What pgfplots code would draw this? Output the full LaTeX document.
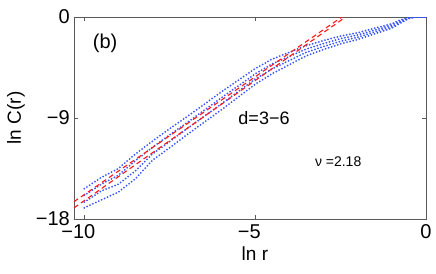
\documentclass[border=0pt]{standalone}
\usepackage{pgfplots}
\pgfplotsset{compat=1.18}
\usepackage{fontspec}
\setmainfont{Liberation Sans}
\definecolor{myblue}{rgb}{0.22,0.33,1}
\definecolor{myred}{rgb}{1,0.1,0.1}
\begin{document}
\begin{tikzpicture}
\useasboundingbox (-74pt,-54pt) rectangle (362pt,219pt);
\begin{axis}[
  scale only axis, width=352pt, height=202pt,
  xmin=-10.3, xmax=0, ymin=-18, ymax=0,
  xtick={-10,-5,0}, xticklabels={\llap{−}10,\llap{−}5,0},
  ytick={-18,-9,0}, yticklabels={−18,−9,0},
  tick align=inside, major tick length=4pt,
  axis line style={black!65}, tick style={black!65},
  ticklabel style={font=\fontsize{20}{24}\selectfont},
  yticklabel style={inner xsep=0pt, xshift=-4pt},
  xticklabel style={yshift=-2pt},
  xlabel={ln r}, ylabel={ln C(r)},
  label style={font=\fontsize{19}{23}\selectfont},
  xlabel style={anchor=center, at={(axis description cs:0.514,-0.17)}},
  ylabel style={anchor=center, at={(axis description cs:-0.165,0.5)}},
  clip=true,
  every axis plot/.append style={line join=round},
]
% blue dotted curves
\addplot[myblue, line width=2pt, line cap=round, dash pattern=on 0pt off 3.2pt] coordinates {
(-10,-15.3) (-9.5,-14.3) (-9,-13.5) (-8.5,-12.2) (-8,-11.05) (-7.5,-9.95) (-7,-8.9) (-6.5,-7.8) (-6,-6.7) (-5.5,-5.65) (-5,-4.6) (-4.5,-3.75) (-4,-3.15) (-3.5,-2.55) (-3,-2.1) (-2.5,-1.7) (-2,-1.4) (-1.5,-1.0) (-1,-0.6) (-0.75,-0.25) (-0.5,-0.03) (-0.3,0) (0,0)};
\addplot[myblue, line width=2pt, line cap=round, dash pattern=on 0pt off 3.2pt] coordinates {
(-10,-15.9) (-9.5,-14.9) (-9,-14.1) (-8.5,-12.8) (-8,-11.6) (-7.5,-10.5) (-7,-9.43) (-6.5,-8.33) (-6,-7.23) (-5.5,-6.15) (-5,-5.07) (-4.5,-4.18) (-4,-3.52) (-3.5,-2.85) (-3,-2.37) (-2.5,-1.93) (-2,-1.6) (-1.5,-1.17) (-1,-0.73) (-0.75,-0.35) (-0.5,-0.06) (-0.3,0) (0,0)};
\addplot[myblue, line width=2pt, line cap=round, dash pattern=on 0pt off 3.2pt] coordinates {
(-10,-16.5) (-9.5,-15.5) (-9,-14.9) (-8.5,-13.7) (-8,-12.2) (-7.5,-11.1) (-7,-9.97) (-6.5,-8.87) (-6,-7.77) (-5.5,-6.65) (-5,-5.53) (-4.5,-4.62) (-4,-3.88) (-3.5,-3.15) (-3,-2.63) (-2.5,-2.17) (-2,-1.8) (-1.5,-1.33) (-1,-0.87) (-0.75,-0.45) (-0.5,-0.1) (-0.3,0) (0,0)};
\addplot[myblue, line width=2pt, line cap=round, dash pattern=on 0pt off 3.2pt] coordinates {
(-10,-17.0) (-9.5,-16.3) (-9,-15.6) (-8.5,-14.4) (-8,-12.75) (-7.5,-11.65) (-7,-10.5) (-6.5,-9.4) (-6,-8.3) (-5.5,-7.15) (-5,-6.0) (-4.5,-5.05) (-4,-4.25) (-3.5,-3.45) (-3,-2.9) (-2.5,-2.4) (-2,-2.0) (-1.5,-1.5) (-1,-1.0) (-0.75,-0.55) (-0.5,-0.13) (-0.3,0) (0,0)};
% red dashed fits
\addplot[myred, line width=1.1pt, dash pattern=on 5pt off 3.5pt] coordinates {(-10.3,-16.46) (-2.3,0.34)};
\addplot[myred, line width=1.1pt, dash pattern=on 5pt off 3.5pt] coordinates {(-10.3,-17.01) (-2.3,0.11)};
\node[font=\fontsize{20}{24}\selectfont, anchor=center] at (axis cs:-9.39,-2.36) {(b)};
\node[font=\fontsize{18}{22}\selectfont, anchor=center] at (axis cs:-4.74,-9.0) {d=3−6};
\node[font=\fontsize{14}{17}\selectfont, anchor=center] at (axis cs:-2.57,-12.9) {ν =2.18};
\end{axis}
\end{tikzpicture}
\end{document}
